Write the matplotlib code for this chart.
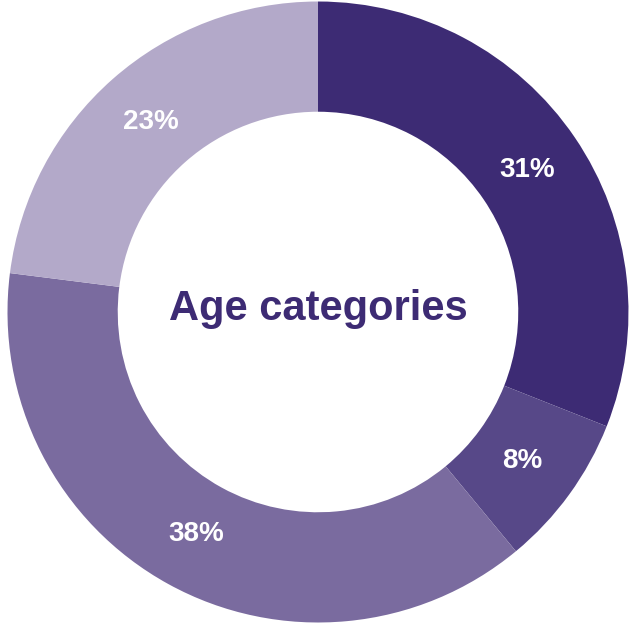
import matplotlib
matplotlib.use("Agg")
import matplotlib.pyplot as plt

plt.rcParams['font.family'] = ['Liberation Sans', 'DejaVu Sans']

# age category shares, clockwise from 12 o'clock
shares = [31, 8, 38, 23]
labels = ['31%', '8%', '38%', '23%']
colors = ['#3d2b74', '#574888', '#7a6b9f', '#b3a9c9']
title = 'Age categories'

fig = plt.figure(figsize=(6.30, 6.26), dpi=100)
ax = fig.add_axes([0.0119, 0.0056, 0.9857, 0.992])

wedges, texts = ax.pie(shares, colors=colors, startangle=90, counterclock=False,
                       radius=1.0, labels=labels, labeldistance=0.815,
                       wedgeprops=dict(width=0.355, linewidth=0),
                       textprops=dict(color='white', fontsize=20, fontweight='bold',
                                      ha='center', va='center'))

ax.text(0, -0.025, title, ha='center', va='baseline', fontsize=30,
        fontweight='bold', color='#3d2b74')

ax.set_xlim(-1, 1)
ax.set_ylim(-1, 1)
ax.set_aspect('equal')
ax.axis('off')

fig.savefig('out.png', dpi=100)
